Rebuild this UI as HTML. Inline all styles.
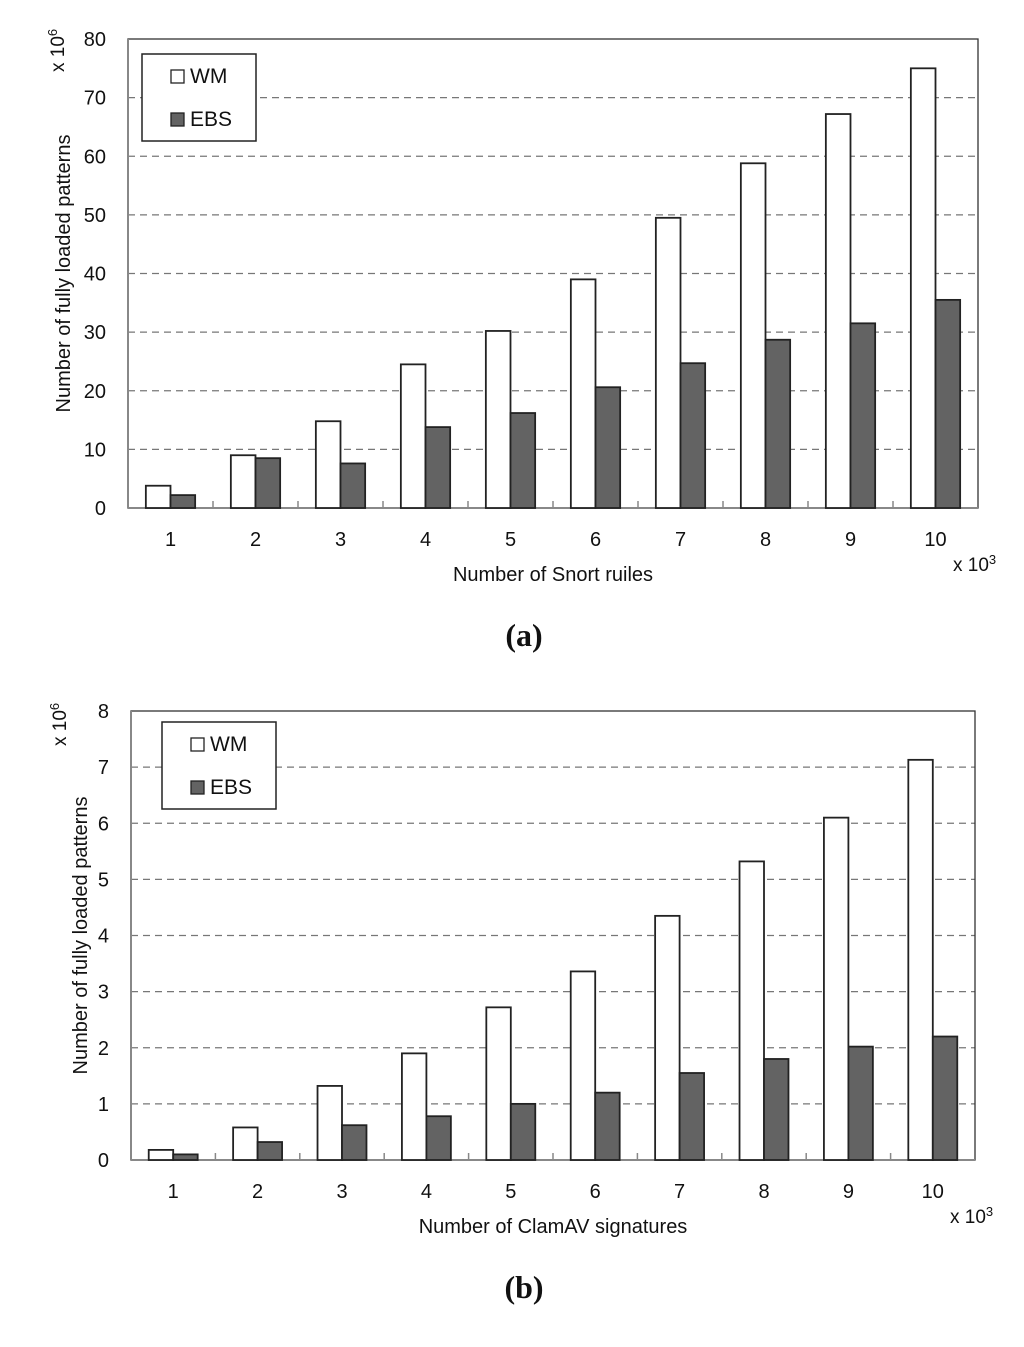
<!DOCTYPE html>
<html><head><meta charset="utf-8"><style>
body{margin:0;background:#fff;font-family:"Liberation Sans",sans-serif}
svg text{font-family:"Liberation Sans",sans-serif;fill:#111}
</style></head><body>
<svg id="s" width="1024" height="1342" xmlns="http://www.w3.org/2000/svg"></svg>
<script>
const categories=["1","2","3","4","5","6","7","8","9","10"];
const wmA=[3.8,9,14.8,24.5,30.2,39,49.5,58.8,67.2,75];
const ebsA=[2.2,8.5,7.6,13.8,16.2,20.6,24.7,28.7,31.5,35.5];
const ticksA=[0,10,20,30,40,50,60,70,80];
const wmB=[0.18,0.58,1.32,1.9,2.72,3.36,4.35,5.32,6.1,7.13];
const ebsB=[0.1,0.32,0.62,0.78,1.0,1.2,1.55,1.8,2.02,2.2];
const ticksB=[0,1,2,3,4,5,6,7,8];
const NS="http://www.w3.org/2000/svg";
const svg=document.getElementById('s');
function mk(tag,attrs,parent,txt){const e=document.createElementNS(NS,tag);for(const k in attrs)e.setAttribute(k,attrs[k]);if(txt!==undefined)e.textContent=txt;(parent||svg).appendChild(e);return e;}
function chart(cfg){
 const g=mk('g',{});
 
 
 const {L,R,T,B,max}=cfg;
 const y=v=>B-(v/max)*(B-T);
 const cw=(R-L)/categories.length;
 const x=i=>L+i*cw;
 cfg.ticks.forEach(t=>{
  if(t>0&&t<max){const l=mk('line',{x1:L,x2:R,y1:y(t),y2:y(t),stroke:'#777','stroke-width':1.3,'stroke-dasharray':'7,5'},g);
   }
  const tx=mk('text',{x:L-22,y:y(t)+7,'text-anchor':'end','font-size':20},g,String(t));
  
 });
 const fr=mk('rect',{x:L,y:T,width:R-L,height:B-T,fill:'none',stroke:'#333','stroke-width':1.3},g);
 
 mk('line',{x1:L,x2:R,y1:B,y2:B,stroke:'#888','stroke-width':2},g);
 mk('line',{x1:L,x2:L,y1:T,y2:B,stroke:'#888','stroke-width':2},g);
 const bw=cw*0.29;
 categories.forEach((c,i)=>{
  if(i>0){mk('line',{x1:x(i),x2:x(i),y1:B,y2:B-7,stroke:'#888','stroke-width':1.5},g);}
  const cx=x(i)+cw/2;
  const b1=mk('rect',{x:cx-bw,y:y(cfg.wm[i]),width:bw,height:B-y(cfg.wm[i]),fill:'#fff',stroke:'#222','stroke-width':1.8},g);
  
  const b2=mk('rect',{x:cx,y:y(cfg.ebs[i]),width:bw,height:B-y(cfg.ebs[i]),fill:'#636363',stroke:'#222','stroke-width':1.8},g);
  
  const t=mk('text',{x:cx,y:B+38,'text-anchor':'middle','font-size':20},g,c);
  
 });
 const lg=mk('g',{},g);
 
 mk('rect',{x:cfg.lx,y:cfg.ly,width:114,height:87,fill:'#fff',stroke:'#222','stroke-width':1.5},lg);
 mk('rect',{x:cfg.lx+29,y:cfg.ly+16,width:13,height:13,fill:'#fff',stroke:'#222','stroke-width':1.3},lg);
 mk('text',{x:cfg.lx+48,y:cfg.ly+29,'font-size':21},lg,'WM');
 mk('rect',{x:cfg.lx+29,y:cfg.ly+59,width:13,height:13,fill:'#636363',stroke:'#222','stroke-width':1.3},lg);
 mk('text',{x:cfg.lx+48,y:cfg.ly+72,'font-size':21},lg,'EBS');
 const xt=mk('text',{x:(L+R)/2,y:B+73,'text-anchor':'middle','font-size':20},g,cfg.xlabel);
 
 const yt=mk('text',{x:0,y:0,'text-anchor':'middle','font-size':20,transform:`translate(${cfg.ytx},${(T+B)/2}) rotate(-90)`},g,'Number of fully loaded patterns');
 
 const ym=mk('text',{x:0,y:0,'font-size':19,transform:`translate(${cfg.ymx},${cfg.ymy}) rotate(-90)`},g);
 ym.innerHTML='x 10<tspan dy="-7" font-size="13">6</tspan>';
 
 const xm=mk('text',{x:R-25,y:B+63,'font-size':19},g);
 xm.innerHTML='x 10<tspan dy="-7" font-size="13">3</tspan>';
 
 const cap=mk('text',{x:cfg.capx,y:cfg.capy,'text-anchor':'middle','font-size':32,'font-weight':'bold'},g);
 cap.innerHTML='(<tspan>'+cfg.cap+'</tspan>)';
 cap.style.fontFamily='"Liberation Serif",serif';
 
}
chart({name:'chart-a',L:128,R:978,T:39,B:508,max:80,ticks:ticksA,wm:wmA,ebs:ebsA,lx:142,ly:54,xlabel:'Number of Snort ruiles',ytx:70,ymx:64,ymy:72,capx:524,capy:646,cap:'a'});
chart({name:'chart-b',L:131,R:975,T:711,B:1160,max:8,ticks:ticksB,wm:wmB,ebs:ebsB,lx:162,ly:722,xlabel:'Number of ClamAV signatures',ytx:87,ymx:66,ymy:746,capx:524,capy:1298,cap:'b'});
</script>
</body></html>
